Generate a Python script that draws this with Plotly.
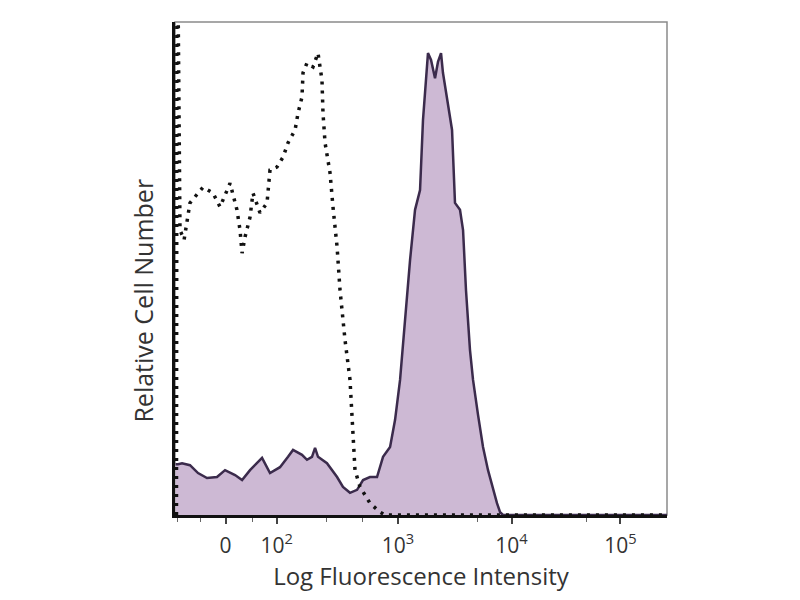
import plotly.graph_objects as go

# x values are in display decades (biexponential-like display: 3 = 10^3, 4 = 10^4 ...)
stained_x = [1.040, 1.062, 1.097, 1.167, 1.238, 1.317, 1.405, 1.476, 1.564, 1.626, 1.696, 1.740,
             1.802, 1.872, 1.960, 2.031, 2.075, 2.154, 2.198, 2.242, 2.269, 2.295, 2.374, 2.463,
             2.515, 2.577, 2.639, 2.692, 2.753, 2.815, 2.868, 2.930, 2.974, 3.018, 3.062, 3.106,
             3.150, 3.194, 3.220, 3.247, 3.264, 3.291, 3.326, 3.352, 3.379, 3.396, 3.432, 3.476,
             3.502, 3.546, 3.573, 3.599, 3.634, 3.661, 3.705, 3.749, 3.793, 3.837, 3.872, 3.899,
             3.925, 5.370]
stained_y = [10.3, 10.3, 10.5, 10.1, 8.5, 7.5, 7.7, 9.1, 8.1, 7.1, 9.1, 10.1,
             11.6, 8.5, 9.7, 11.8, 13.2, 12.2, 11.2, 11.8, 13.6, 11.8, 10.5, 7.7,
             5.7, 4.5, 5.1, 7.1, 7.7, 7.7, 11.8, 13.8, 19.3, 27.4, 39.6, 51.7,
             61.9, 65.9, 80.1, 89.2, 93.7, 92.3, 88.6, 91.9, 93.7, 89.7, 84.2, 78.1,
             63.3, 61.9, 57.8, 45.6, 33.5, 27.4, 20.3, 13.8, 9.1, 5.1, 2.4, 0.6,
             0.0, 0.0]

control_x = [1.048, 1.053, 1.079, 1.115, 1.167, 1.282, 1.370, 1.432, 1.520, 1.581, 1.608, 1.626,
             1.652, 1.696, 1.722, 1.784, 1.846, 1.872, 1.934, 1.987, 2.031, 2.093, 2.119, 2.154,
             2.163, 2.198, 2.251, 2.295, 2.330, 2.339, 2.357, 2.401, 2.427, 2.463, 2.489, 2.533,
             2.577, 2.595, 2.621, 2.665, 2.753, 2.841, 2.885, 5.370]
control_y = [0.0, 130.0, 57.8, 55.8, 63.3, 66.5, 65.3, 62.5, 67.3, 61.9, 57.8, 53.1,
             56.4, 60.4, 65.3, 61.3, 63.3, 70.0, 70.6, 72.6, 75.5, 78.1, 81.5, 84.8,
             89.7, 91.7, 90.9, 93.7, 88.2, 81.5, 75.5, 69.4, 62.5, 54.4, 45.6, 35.5,
             27.4, 18.7, 9.1, 5.7, 2.4, 0.6, 0.0, 0.0]

major_tickvals = [1.48, 1.93, 3.0, 4.0, 4.96]
major_ticktext = ["0", "10<sup>2</sup>", "10<sup>3</sup>", "10<sup>4</sup>", "10<sup>5</sup>"]
minor_tickvals = [1.053, 1.26, 1.714, 2.374, 2.683, 3.696, 4.665]

x_title = "Log Fluorescence Intensity"
y_title = "Relative Cell Number"

fig = go.Figure()
fig.add_trace(go.Scatter(
    x=stained_x, y=stained_y, mode="lines", fill="tozeroy",
    fillcolor="#cdb9d4", line=dict(color="#3b2b4c", width=2.5),
    hoverinfo="skip", showlegend=False))
fig.add_trace(go.Scatter(
    x=control_x, y=control_y, mode="lines",
    line=dict(color="#111111", width=3.5, dash="3px,6px"),
    hoverinfo="skip", showlegend=False, cliponaxis=True))

fig.update_layout(
    width=800, height=600,
    margin=dict(l=167, r=141, t=14, b=93),
    paper_bgcolor="white", plot_bgcolor="white",
    font=dict(family="Open Sans", color="#333333"),
    shapes=[dict(type="rect", xref="paper", yref="paper", x0=0, y0=0, x1=1, y1=1,
                 line=dict(color="#8a8a8a", width=1.5), layer="below")],
    annotations=[dict(text=y_title, textangle=-90, xref="paper", yref="paper",
                      x=-0.065, y=0.435, xanchor="center", yanchor="middle",
                      showarrow=False, font=dict(size=25, color="#333333"))],
)
fig.update_xaxes(
    range=[1.035, 5.37], showgrid=False, zeroline=False,
    showline=True, linecolor="#111111", linewidth=2.5,
    tickmode="array", tickvals=major_tickvals, ticktext=major_ticktext,
    ticks="outside", ticklen=6, tickwidth=1.5, tickcolor="#444444",
    tickfont=dict(size=21, color="#333333"), ticklabelstandoff=4,
    minor=dict(tickmode="array", tickvals=minor_tickvals, ticks="outside",
               ticklen=4, tickwidth=1.2, tickcolor="#666666"),
    title=dict(text=x_title, font=dict(size=24, color="#333333"), standoff=2),
)
fig.update_yaxes(
    range=[0, 100], showgrid=False, zeroline=False,
    showline=True, linecolor="#111111", linewidth=2.5,
    showticklabels=False, ticks="",
)

fig.write_html("out.html")
